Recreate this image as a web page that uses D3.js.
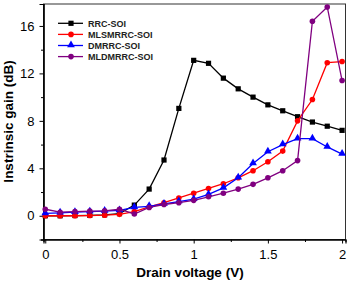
<!DOCTYPE html>
<html>
<head>
<meta charset="utf-8">
<script src="https://cdn.jsdelivr.net/npm/d3@7"></script>
<style>
  body { margin: 0; background: #fff; }
  svg text { font-family: Arial, "Liberation Sans", sans-serif; }
</style>
</head>
<body>
<svg id="chart" width="350" height="282"></svg>
<script>
// drain voltage (V)
var voltage = [0, 0.1, 0.2, 0.3, 0.4, 0.5, 0.6, 0.7, 0.8, 0.9, 1.0,
               1.1, 1.2, 1.3, 1.4, 1.5, 1.6, 1.7, 1.8, 1.9, 2.0];
// intrinsic gain (dB) per device
var rrc     = [0, 0, 0.02, 0.04, 0.08, 0.18, 0.9, 2.25, 4.7, 9.05, 13.1,
               12.85, 11.6, 10.7, 10.0, 9.35, 8.85, 8.35, 7.9, 7.55, 7.2];
var mlsmrrc = [0, 0, 0, 0.02, 0.05, 0.12, 0.35, 0.75, 1.1, 1.5, 1.9,
               2.3, 2.7, 3.2, 3.8, 4.55, 5.45, 8.0, 9.8, 12.9, 13.0];
var dmrrc   = [0.2, 0.25, 0.3, 0.35, 0.4, 0.45, 0.7, 0.8, 1.0, 1.2, 1.4,
               1.8, 2.35, 3.2, 4.4, 5.4, 6.0, 6.5, 6.5, 5.8, 5.2];
var mldmrrc = [0.55, 0.3, 0.35, 0.4, 0.42, 0.55, 0.15, 0.7, 0.95, 1.1, 1.3,
               1.6, 1.9, 2.25, 2.65, 3.2, 3.8, 4.65, 16.4, 17.6, 11.4];
var seriesNames = ["RRC-SOI", "MLSMRRC-SOI", "DMRRC-SOI", "MLDMRRC-SOI"];
var xTicks = [0, 0.5, 1, 1.5, 2];
var yTicks = [0, 4, 8, 12, 16];

var series = [
  {name: seriesNames[0], values: rrc,     color: "#000000", marker: "square"},
  {name: seriesNames[1], values: mlsmrrc, color: "#ff0000", marker: "circle"},
  {name: seriesNames[2], values: dmrrc,   color: "#0000ff", marker: "triangle"},
  {name: seriesNames[3], values: mldmrrc, color: "#800080", marker: "circle"}
];

var svg = d3.select("#chart");
var pLeft = 43.5, pRight = 345.5, pTop = 4, pBottom = 239.5;

var xScale = d3.scaleLinear().domain([-0.012, 2.023]).range([pLeft, pRight]);
var yScale = d3.scaleLinear().domain([-2, 17.85]).range([pBottom, pTop]);

// frame
svg.append("rect")
  .attr("x", pLeft).attr("y", pTop)
  .attr("width", pRight - pLeft).attr("height", pBottom - pTop)
  .attr("fill", "none").attr("stroke", "#333").attr("stroke-width", 1);

// minor ticks
var xMinor = d3.axisBottom(xScale).tickValues([0.25, 0.75, 1.25, 1.75]).tickSize(2.5).tickFormat("");
var yMinor = d3.axisLeft(yScale).tickValues([-2, 2, 6, 10, 14]).tickSize(2.5).tickFormat("");
svg.append("g").attr("transform", "translate(0," + pBottom + ")").call(xMinor);
svg.append("g").attr("transform", "translate(" + pLeft + ",0)").call(yMinor);

// major axes
var xAxis = d3.axisBottom(xScale).tickValues(xTicks).tickSize(4).tickPadding(6)
  .tickFormat(function(d){ return d; });
var yAxis = d3.axisLeft(yScale).tickValues(yTicks).tickSize(4).tickPadding(5);
svg.append("g").attr("class", "xaxis").attr("transform", "translate(0," + pBottom + ")").call(xAxis);
svg.append("g").attr("class", "yaxis").attr("transform", "translate(" + pLeft + ",0)").call(yAxis);

svg.selectAll(".domain").attr("stroke", "#000").attr("stroke-width", 1.2);
svg.selectAll(".tick line").attr("stroke", "#000");
svg.selectAll(".xaxis text, .yaxis text")
  .attr("font-size", "13px").attr("fill", "#000")
  .style("font-family", "Arial, 'Liberation Sans', sans-serif");

// axis titles
svg.append("text")
  .attr("x", 190).attr("y", 277)
  .attr("text-anchor", "middle")
  .attr("font-size", "13.5px").attr("font-weight", "bold")
  .text("Drain voltage (V)");
svg.append("text")
  .attr("transform", "translate(12.5,121.5) rotate(-90)")
  .attr("text-anchor", "middle")
  .attr("font-size", "13.5px").attr("font-weight", "bold")
  .text("Instrinsic gain (dB)");

var linemaker = d3.line()
  .x(function(d){ return xScale(d.x); })
  .y(function(d){ return yScale(d.y); });

function drawMarker(g, type, color, cx, cy) {
  if (type === "square") {
    g.append("rect").attr("x", cx - 2.6).attr("y", cy - 2.6)
      .attr("width", 5.2).attr("height", 5.2).attr("fill", color);
  } else if (type === "triangle") {
    g.append("path")
      .attr("d", d3.symbol().type(d3.symbolTriangle).size(26)())
      .attr("transform", "translate(" + cx + "," + (cy - 0.5) + ")")
      .attr("fill", color);
  } else {
    g.append("circle").attr("cx", cx).attr("cy", cy).attr("r", 2.8).attr("fill", color);
  }
}

series.forEach(function(s) {
  var pts = voltage.map(function(v, i){ return {x: v, y: s.values[i]}; });
  var g = svg.append("g");
  g.append("path")
    .attr("d", linemaker(pts))
    .attr("fill", "none")
    .attr("stroke", s.color)
    .attr("stroke-width", 1.3);
  pts.forEach(function(p) {
    drawMarker(g, s.marker, s.color, xScale(p.x), yScale(p.y));
  });
});

// legend
var legend = svg.append("g");
series.forEach(function(s, i) {
  var y = 23.3 + i * 11.1;
  legend.append("line")
    .attr("x1", 58).attr("x2", 83).attr("y1", y).attr("y2", y)
    .attr("stroke", s.color).attr("stroke-width", 1.3);
  drawMarker(legend, s.marker, s.color, 71, y);
  legend.append("text")
    .attr("x", 88).attr("y", y + 3.2)
    .attr("font-size", "9px").attr("font-weight", "bold").attr("fill", "#222")
    .text(s.name);
});
</script>
</body>
</html>
